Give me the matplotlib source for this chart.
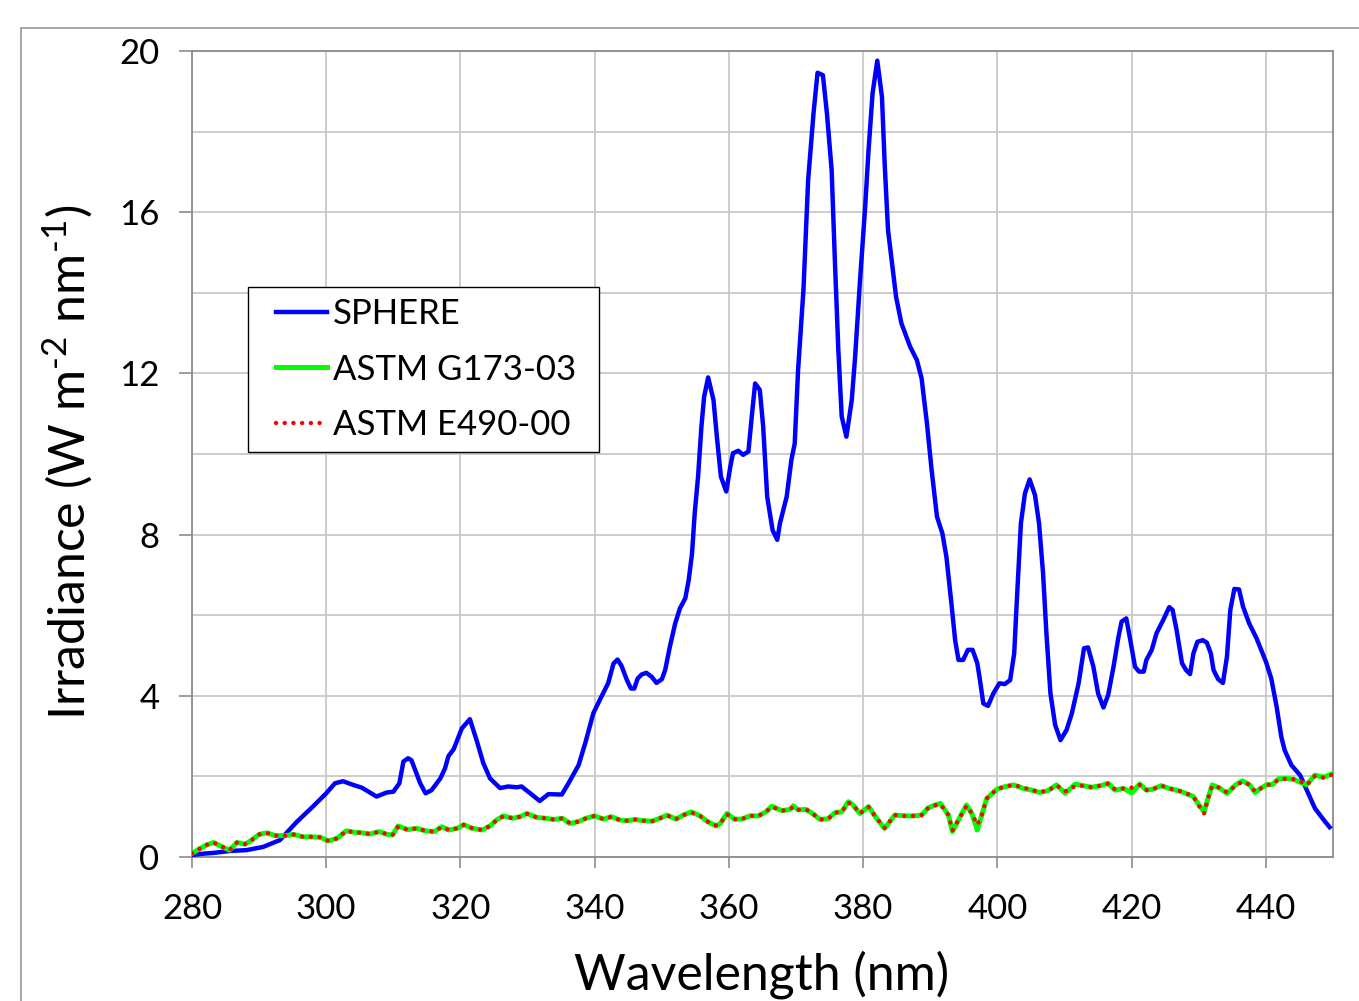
import matplotlib
matplotlib.use("Agg")
import matplotlib.pyplot as plt
from matplotlib.lines import Line2D
from matplotlib.patches import Rectangle

plt.rcParams['font.family'] = ['Lato', 'DejaVu Sans']
plt.rcParams['mathtext.fontset'] = 'custom'
plt.rcParams['mathtext.rm'] = 'Lato'
plt.rcParams['mathtext.default'] = 'regular'

# ---- data ----
sphere_wl = [280.0, 281.5, 283.1, 285.7, 288.1, 290.6, 293.1, 295.6, 298.0, 300.0,
             301.3, 302.5, 304.0, 305.3, 306.5, 307.5, 309.0, 310.0, 310.9, 311.5,
             312.2, 312.7, 314.0, 314.8, 315.7, 317.0, 317.7, 318.2, 319.0, 320.2,
             321.4, 322.4, 323.4, 324.4, 325.9, 327.1, 328.4, 329.1, 330.4, 331.8,
             333.1, 335.1, 336.1, 337.6, 338.6, 339.8, 341.0, 342.0, 342.8, 343.4,
             344.0, 344.8, 345.4, 345.9, 346.4, 347.0, 347.7, 348.5, 349.2, 350.0,
             350.5, 351.2, 352.0, 352.7, 353.5, 354.0, 354.5, 354.9, 355.4, 355.9,
             356.3, 356.9, 357.7, 358.2, 358.8, 359.6, 360.2, 360.6, 361.4, 362.1,
             362.9, 363.4, 363.9, 364.6, 365.1, 365.7, 366.5, 367.2, 367.6, 368.6,
             369.3, 369.8, 370.3, 371.1, 371.8, 372.6, 373.2, 374.0, 374.6, 375.3,
             375.8, 376.3, 376.8, 377.5, 378.3, 378.8, 379.5, 380.3, 380.8, 381.4,
             382.1, 382.8, 383.2, 383.7, 384.9, 385.7, 387.0, 388.0, 388.7, 389.5,
             390.2, 391.0, 391.8, 392.4, 393.2, 393.7, 394.2, 394.9, 395.6, 396.3,
             397.0, 397.4, 397.9, 398.6, 399.4, 400.3, 401.1, 401.9, 402.5, 402.9,
             403.5, 404.1, 404.8, 405.6, 406.2, 406.8, 407.3, 407.9, 408.6, 409.4,
             410.3, 411.1, 412.1, 412.9, 413.5, 414.3, 415.0, 415.8, 416.5, 417.3,
             418.0, 418.5, 419.2, 419.8, 420.5, 421.1, 421.8, 422.2, 423.0, 423.7,
             424.7, 425.6, 426.1, 426.7, 427.5, 428.1, 428.7, 429.2, 429.8, 430.6,
             431.2, 431.8, 432.2, 432.9, 433.6, 434.2, 434.7, 435.3, 436.0, 436.6,
             437.5, 438.6, 440.0, 440.8, 441.6, 442.3, 442.8, 443.8, 445.1, 446.3,
             447.3, 448.8, 449.5]
sphere_irr = [0.05, 0.08, 0.10, 0.15, 0.17, 0.25, 0.42, 0.87, 1.25, 1.58,
              1.83, 1.88, 1.79, 1.72, 1.60, 1.50, 1.60, 1.62, 1.83, 2.37,
              2.45, 2.40, 1.83, 1.58, 1.66, 1.95, 2.20, 2.50, 2.68, 3.19,
              3.42, 2.90, 2.33, 1.95, 1.71, 1.75, 1.73, 1.75, 1.58, 1.39,
              1.56, 1.55, 1.83, 2.28, 2.83, 3.57, 3.98, 4.31, 4.80, 4.90,
              4.74, 4.39, 4.18, 4.18, 4.43, 4.53, 4.57, 4.47, 4.32, 4.41,
              4.64, 5.22, 5.80, 6.17, 6.42, 6.87, 7.53, 8.53, 9.44, 10.68,
              11.42, 11.90, 11.34, 10.43, 9.44, 9.07, 9.68, 10.02, 10.08, 9.98,
              10.06, 10.93, 11.75, 11.59, 10.68, 8.94, 8.11, 7.87, 8.28, 8.94,
              9.85, 10.26, 12.08, 14.07, 16.80, 18.45, 19.46, 19.40, 18.45, 17.05,
              14.73, 12.58, 10.93, 10.43, 11.34, 12.41, 14.23, 16.14, 17.54, 18.95,
              19.76, 18.86, 17.21, 15.56, 13.90, 13.24, 12.66, 12.33, 11.88, 10.76,
              9.60, 8.44, 8.03, 7.45, 6.21, 5.38, 4.89, 4.89, 5.14, 5.14,
              4.81, 4.39, 3.81, 3.75, 4.06, 4.31, 4.29, 4.39, 5.05, 6.38,
              8.28, 9.02, 9.37, 8.98, 8.28, 7.04, 5.55, 4.06, 3.28, 2.90,
              3.15, 3.57, 4.31, 5.18, 5.20, 4.72, 4.06, 3.71, 4.02, 4.72,
              5.43, 5.84, 5.92, 5.38, 4.72, 4.60, 4.60, 4.89, 5.14, 5.55,
              5.88, 6.20, 6.13, 5.63, 4.81, 4.64, 4.54, 5.05, 5.34, 5.38,
              5.32, 5.05, 4.64, 4.41, 4.32, 4.97, 6.13, 6.65, 6.64, 6.21,
              5.80, 5.43, 4.85, 4.43, 3.73, 2.98, 2.65, 2.28, 2.03, 1.58,
              1.21, 0.88, 0.74]

astm_wl = [280.0, 281.2, 282.2, 283.2, 284.4, 285.6, 286.7, 287.9, 288.9, 290.0,
           291.1, 292.4, 293.9, 295.1, 296.6, 297.8, 299.1, 300.3, 301.6, 303.0,
           303.9, 305.3, 306.5, 307.9, 309.1, 309.9, 310.7, 312.1, 313.5, 314.8,
           316.1, 317.2, 318.3, 319.5, 320.5, 321.8, 323.2, 324.4, 325.4, 326.4,
           327.8, 328.9, 329.9, 331.4, 332.7, 333.9, 335.2, 336.3, 337.6, 338.7,
           340.0, 341.3, 342.5, 343.7, 344.8, 346.0, 347.2, 348.6, 349.7, 350.8,
           352.1, 353.2, 354.4, 355.7, 356.8, 358.1, 358.7, 359.7, 360.8, 361.9,
           363.1, 364.4, 365.5, 366.4, 367.9, 369.1, 369.6, 370.3, 371.5, 372.6,
           373.6, 374.8, 375.8, 376.8, 377.8, 378.5, 379.5, 380.8, 382.0, 383.2,
           384.7, 386.2, 387.5, 388.7, 389.7, 390.7, 391.5, 392.7, 393.3, 394.2,
           395.4, 396.2, 397.0, 397.6, 398.4, 399.9, 401.0, 402.4, 403.9, 405.1,
           406.3, 407.6, 408.8, 410.1, 411.6, 412.8, 414.0, 415.4, 416.5, 417.5,
           418.8, 420.0, 421.2, 422.2, 423.1, 424.4, 425.6, 426.9, 427.9, 429.2,
           429.9, 430.8, 431.3, 432.0, 433.2, 434.2, 435.5, 436.5, 437.6, 438.4,
           439.1, 440.1, 441.0, 441.9, 443.0, 444.1, 445.3, 446.1, 447.3, 448.6,
           450.0]
g173_irr = [0.09, 0.21, 0.30, 0.36, 0.26, 0.17, 0.36, 0.32, 0.42, 0.56,
            0.60, 0.53, 0.53, 0.56, 0.50, 0.50, 0.49, 0.40, 0.46, 0.65,
            0.62, 0.60, 0.57, 0.63, 0.56, 0.55, 0.77, 0.68, 0.71, 0.65,
            0.63, 0.75, 0.67, 0.71, 0.80, 0.71, 0.67, 0.77, 0.92, 1.02,
            0.96, 1.00, 1.08, 0.98, 0.96, 0.93, 0.96, 0.83, 0.88, 0.96,
            1.02, 0.94, 1.00, 0.92, 0.90, 0.93, 0.90, 0.89, 0.96, 1.04,
            0.94, 1.04, 1.12, 1.02, 0.88, 0.77, 0.83, 1.08, 0.94, 0.94,
            1.02, 1.02, 1.12, 1.26, 1.15, 1.18, 1.27, 1.17, 1.18, 1.06,
            0.93, 0.95, 1.10, 1.12, 1.37, 1.29, 1.08, 1.25, 0.96, 0.71,
            1.04, 1.02, 1.02, 1.04, 1.22, 1.29, 1.33, 1.04, 0.63, 0.92,
            1.29, 1.08, 0.67, 1.00, 1.45, 1.68, 1.74, 1.79, 1.70, 1.66,
            1.60, 1.65, 1.79, 1.58, 1.81, 1.77, 1.73, 1.77, 1.83, 1.66,
            1.70, 1.59, 1.81, 1.66, 1.68, 1.77, 1.70, 1.65, 1.59, 1.50,
            1.32, 1.12, 1.41, 1.79, 1.70, 1.58, 1.79, 1.89, 1.79, 1.60,
            1.69, 1.79, 1.80, 1.94, 1.95, 1.93, 1.84, 1.79, 2.03, 1.98,
            2.07]
e490_irr = [0.09, 0.21, 0.30, 0.36, 0.26, 0.17, 0.36, 0.32, 0.42, 0.56,
            0.60, 0.53, 0.53, 0.56, 0.50, 0.50, 0.49, 0.40, 0.46, 0.65,
            0.62, 0.60, 0.57, 0.63, 0.56, 0.55, 0.75, 0.68, 0.71, 0.65,
            0.63, 0.74, 0.67, 0.71, 0.80, 0.71, 0.67, 0.77, 0.92, 1.01,
            0.96, 1.00, 1.07, 0.98, 0.96, 0.93, 0.96, 0.84, 0.88, 0.96,
            1.02, 0.94, 1.00, 0.92, 0.90, 0.93, 0.90, 0.89, 0.96, 1.03,
            0.94, 1.04, 1.10, 1.02, 0.88, 0.78, 0.83, 1.06, 0.94, 0.94,
            1.02, 1.02, 1.12, 1.24, 1.15, 1.18, 1.25, 1.17, 1.18, 1.06,
            0.93, 0.95, 1.10, 1.12, 1.35, 1.29, 1.08, 1.24, 0.96, 0.72,
            1.04, 1.02, 1.02, 1.04, 1.22, 1.28, 1.31, 1.04, 0.66, 0.92,
            1.27, 1.08, 0.80, 1.00, 1.45, 1.68, 1.74, 1.79, 1.72, 1.66,
            1.61, 1.65, 1.78, 1.63, 1.76, 1.77, 1.73, 1.77, 1.82, 1.68,
            1.70, 1.72, 1.79, 1.66, 1.68, 1.77, 1.70, 1.65, 1.60, 1.50,
            1.30, 1.08, 1.41, 1.76, 1.72, 1.60, 1.77, 1.87, 1.79, 1.62,
            1.69, 1.78, 1.82, 1.92, 1.94, 1.93, 1.86, 1.79, 2.01, 1.97,
            2.05]

x_ticks = [280, 300, 320, 340, 360, 380, 400, 420, 440]
y_ticks = [0, 4, 8, 12, 16, 20]
y_grid_minor = [2, 6, 10, 14, 18]

W, H = 1359, 1001
fig = plt.figure(figsize=(W / 100, H / 100), dpi=100)
ax = fig.add_axes([192 / W, 1 - 857 / H, (1333 - 192) / W, (857 - 51) / H])

ax.plot(sphere_wl, sphere_irr, color='#0000ff', lw=3.2, label='SPHERE',
        solid_joinstyle='round', zorder=3)
ax.plot(astm_wl, g173_irr, color='#00ff00', lw=3.6, label='ASTM G173-03',
        solid_joinstyle='round', zorder=4)
ax.plot(astm_wl, e490_irr, color='#ff0000', lw=3.2, linestyle=(0, (0.01, 1.95)),
        dash_capstyle='round', label='ASTM E490-00', zorder=5)

ax.set_xlim(280, 450)
ax.set_ylim(0, 20)
ax.set_xticks(x_ticks)
ax.set_yticks(y_ticks)
ax.set_yticks(y_grid_minor, minor=True)
ax.grid(True, which='both', color='#c8c8c8', lw=1.3, zorder=0)
ax.set_axisbelow(True)
for s in ax.spines.values():
    s.set_color('#8c8c8c')
    s.set_linewidth(1.3)
ax.tick_params(axis='y', which='major', direction='out', length=9.5, width=1.2,
               color='#8c8c8c', labelsize=25, pad=14)
ax.tick_params(axis='y', which='minor', length=0)
ax.tick_params(axis='x', which='major', direction='out', length=8, width=1.2,
               color='#8c8c8c', labelsize=25, pad=18)

fig.text(68 / W, 1 - 462 / H, 'Irradiance (W m$^{\u2010\\mathregular{2}}$ nm$^{\u2010\\mathregular{1}}$)',
         rotation=90, ha='center', va='center', fontsize=36)
fig.text(762 / W, 1 - 975 / H, 'Wavelength (nm)', ha='center', va='center', fontsize=36)

# legend frame drawn as its own box, legend entries placed inside it
ax.add_patch(Rectangle(((248 - 192) / 1141, (857 - 452) / 806),
                       (599 - 248) / 1141, (452 - 287) / 806,
                       transform=ax.transAxes, facecolor='white', edgecolor='black',
                       lw=1.0, zorder=6))
leg = ax.legend(loc='upper left', bbox_to_anchor=((276 - 192) / 1141, (857 - 298) / 806),
                fontsize=25, frameon=False, handlelength=1.47, handletextpad=0.17,
                borderpad=0, labelspacing=0.68, borderaxespad=0)
leg.set_zorder(7)

# outer chart frame (partially cropped in reference)
fig.add_artist(Line2D([21 / W, 1.0], [1 - 28 / H, 1 - 28 / H], color='#a0a0a0', lw=1.3))
fig.add_artist(Line2D([21 / W, 21 / W], [0, 1 - 28 / H], color='#a0a0a0', lw=1.3))

fig.savefig('out.png', dpi=100)
